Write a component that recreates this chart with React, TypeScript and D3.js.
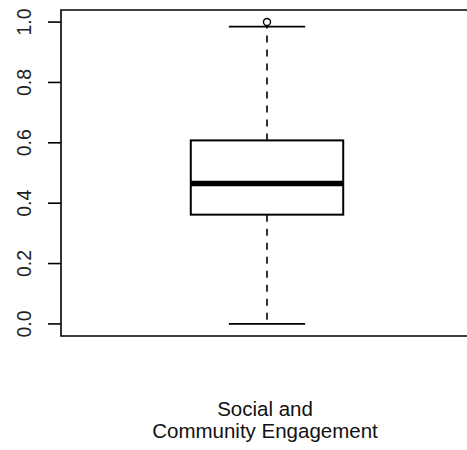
import React, { useEffect, useRef } from "react";
import * as d3 from "d3";

// boxplot summary
const categories = ["Social and\nCommunity Engagement"];
const boxStats = [[0.0, 0.362, 0.465, 0.608, 0.985]]; // min, q1, median, q3, max
const outliers = [[1.0]];
const yTicks = [0, 0.2, 0.4, 0.6, 0.8, 1.0];

const App: React.FC = () => {
  const ref = useRef<SVGSVGElement | null>(null);

  useEffect(() => {
    if (!ref.current) return;
    const svg = d3.select(ref.current);
    svg.selectAll("*").remove();

    const width = 467;
    const height = 450;
    const plot = { left: 61, top: 10, right: 473, bottom: 336 };

    const y = d3.scaleLinear().domain([-0.04, 1.04]).range([plot.bottom, plot.top]);
    const x = d3.scaleLinear().domain([0.5, categories.length + 0.5]).range([plot.left, plot.right]);

    svg.attr("width", width).attr("height", height);
    svg.append("rect").attr("width", width).attr("height", height).attr("fill", "#fff");

    const font = "'Liberation Sans', Arial, Helvetica, sans-serif";

    // frame (right side runs off the picture, as in the original)
    svg.append("path")
      .attr("d", `M${width + 10},${plot.top}H${plot.left}V${plot.bottom}H${width + 10}`)
      .attr("fill", "none")
      .attr("stroke", "#000")
      .attr("stroke-width", 1.6);

    // y axis
    const ax = svg.append("g");
    ax.selectAll("line")
      .data(yTicks)
      .enter()
      .append("line")
      .attr("x1", plot.left - 13)
      .attr("x2", plot.left)
      .attr("y1", d => y(d))
      .attr("y2", d => y(d))
      .attr("stroke", "#000")
      .attr("stroke-width", 1.6);

    ax.selectAll("text")
      .data(yTicks)
      .enter()
      .append("text")
      .attr("transform", d => `translate(31,${y(d)}) rotate(-90)`)
      .attr("text-anchor", "middle")
      .attr("font-family", font)
      .attr("font-size", 19.5)
      .attr("fill", "#222")
      .text(d => d.toFixed(1));

    const boxW = 0.37 * (x(1) - x(0));
    const capW = boxW / 2;

    categories.forEach((cat, i) => {
      const [lo, q1, med, q3, hi] = boxStats[i];
      const cx = x(i + 1);
      const g = svg.append("g");

      // whiskers
      g.append("line")
        .attr("x1", cx).attr("x2", cx)
        .attr("y1", y(q3)).attr("y2", y(hi))
        .attr("stroke", "#000").attr("stroke-width", 1.6)
        .attr("stroke-dasharray", "7,7");
      g.append("line")
        .attr("x1", cx).attr("x2", cx)
        .attr("y1", y(q1)).attr("y2", y(lo))
        .attr("stroke", "#000").attr("stroke-width", 1.6)
        .attr("stroke-dasharray", "7,7");

      // caps
      [lo, hi].forEach(v => {
        g.append("line")
          .attr("x1", cx - capW / 2).attr("x2", cx + capW / 2)
          .attr("y1", y(v)).attr("y2", y(v))
          .attr("stroke", "#000").attr("stroke-width", 1.8);
      });

      // box
      g.append("rect")
        .attr("x", cx - boxW / 2)
        .attr("y", y(q3))
        .attr("width", boxW)
        .attr("height", y(q1) - y(q3))
        .attr("fill", "#fff")
        .attr("stroke", "#000")
        .attr("stroke-width", 2);

      // median
      g.append("line")
        .attr("x1", cx - boxW / 2).attr("x2", cx + boxW / 2)
        .attr("y1", y(med)).attr("y2", y(med))
        .attr("stroke", "#000").attr("stroke-width", 5.5);

      // outliers
      g.selectAll("circle")
        .data(outliers[i])
        .enter()
        .append("circle")
        .attr("cx", cx)
        .attr("cy", d => y(d))
        .attr("r", 3.5)
        .attr("fill", "#fff")
        .attr("stroke", "#000")
        .attr("stroke-width", 1.4);

      // category label
      const lines = cat.split("\n");
      const t = svg.append("text")
        .attr("text-anchor", "middle")
        .attr("font-family", font)
        .attr("font-size", 20.5)
        .attr("fill", "#111");
      lines.forEach((ln, k) => {
        t.append("tspan")
          .attr("x", cx - 2)
          .attr("y", 416 + k * 22)
          .text(ln);
      });
    });
  }, []);

  return (
    <svg ref={ref} style={{ position: "absolute", left: 0, top: 0, display: "block" }} />
  );
};

export default App;
